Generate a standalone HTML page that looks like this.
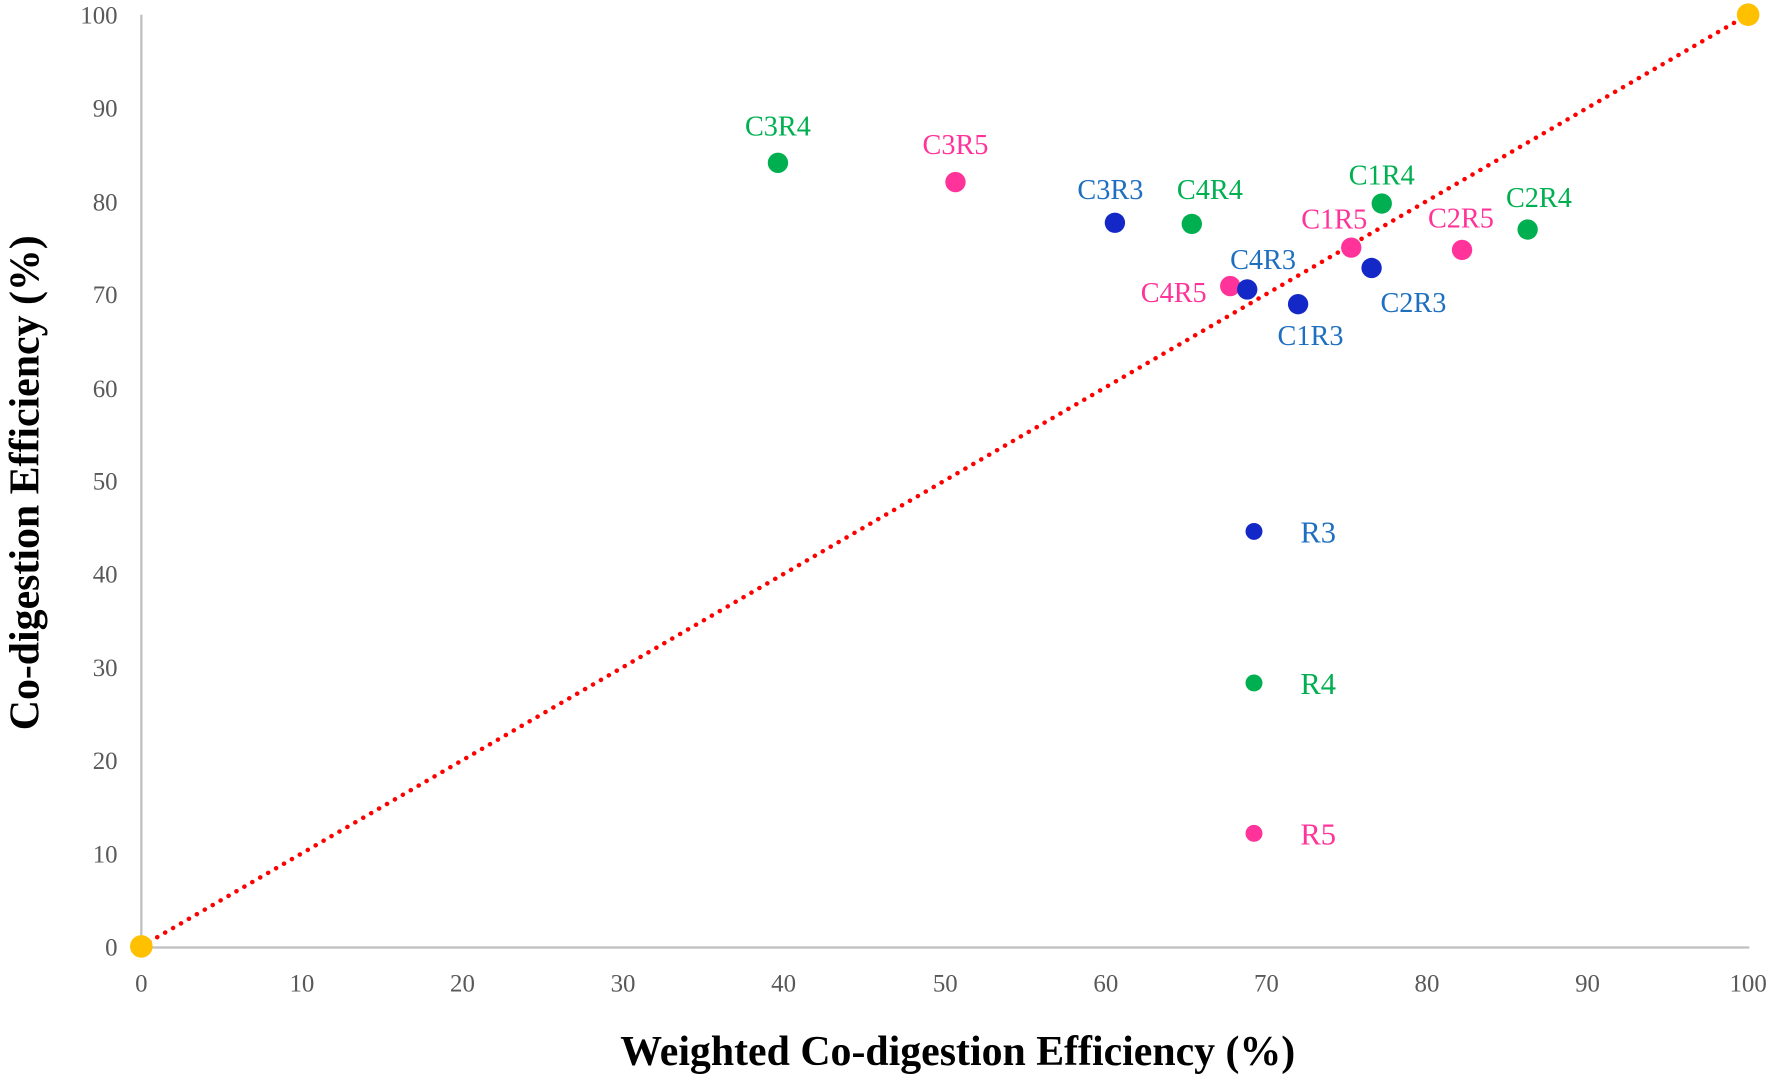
<!DOCTYPE html>
<html><head><meta charset="utf-8"><style>html,body{margin:0;padding:0;background:#fff}svg{display:block}</style></head>
<body>
<svg width="1773" height="1074" viewBox="0 0 1568 949.85" preserveAspectRatio="none" xmlns="http://www.w3.org/2000/svg" font-family="'Liberation Serif', serif">
<g stroke="#bfbfbf" stroke-width="2">
<line x1="125" y1="13" x2="125" y2="838"/>
<line x1="125" y1="838" x2="1547" y2="838"/>
</g>
<g fill="#595959" font-size="22" text-anchor="end">
<text x="104" y="845">0</text><text x="104" y="763">10</text><text x="104" y="680">20</text><text x="104" y="598">30</text><text x="104" y="515">40</text><text x="104" y="433">50</text><text x="104" y="351">60</text><text x="104" y="268">70</text><text x="104" y="186">80</text><text x="104" y="103">90</text><text x="104" y="21">100</text>
</g>
<g fill="#595959" font-size="22" text-anchor="middle">
<text x="125" y="877">0</text><text x="267" y="877">10</text><text x="409" y="877">20</text><text x="551" y="877">30</text><text x="693" y="877">40</text><text x="836" y="877">50</text><text x="978" y="877">60</text><text x="1120" y="877">70</text><text x="1262" y="877">80</text><text x="1404" y="877">90</text><text x="1546" y="877">100</text>
</g>
<line x1="125" y1="837" x2="1546" y2="13" stroke="#ff0000" stroke-width="4" stroke-dasharray="0.1 8" stroke-linecap="round"/>
<circle cx="125" cy="837" r="10" fill="#ffc000"/>
<circle cx="1546" cy="13" r="10" fill="#ffc000"/>
<g fill="#00b050"><circle cx="688" cy="144" r="9"/><circle cx="1054" cy="198" r="9"/><circle cx="1222" cy="180" r="9"/><circle cx="1351" cy="203" r="9"/><circle cx="1109" cy="604" r="7.5"/></g>
<g fill="#ff3399"><circle cx="845" cy="161" r="9"/><circle cx="1195" cy="219" r="9"/><circle cx="1293" cy="221" r="9"/><circle cx="1088" cy="253" r="9"/><circle cx="1109" cy="737" r="7.5"/></g>
<g fill="#1428c8"><circle cx="986" cy="197" r="9"/><circle cx="1103" cy="256" r="9"/><circle cx="1148" cy="269" r="9"/><circle cx="1213" cy="237" r="9"/><circle cx="1109" cy="470" r="7.5"/></g>
<g font-size="25" text-anchor="middle">
<g fill="#00b050"><text x="688" y="120">C3R4</text><text x="1070" y="176">C4R4</text><text x="1222" y="163">C1R4</text><text x="1361" y="183">C2R4</text></g>
<g fill="#ff3399"><text x="845" y="136">C3R5</text><text x="1180" y="202">C1R5</text><text x="1292" y="201">C2R5</text><text x="1038" y="267">C4R5</text></g>
<g fill="#1f6fc0"><text x="982" y="176">C3R3</text><text x="1117" y="238">C4R3</text><text x="1159" y="305">C1R3</text><text x="1250" y="276">C2R3</text></g>
</g>
<g font-size="27">
<text x="1150" y="480" fill="#1f6fc0">R3</text>
<text x="1150" y="614" fill="#00b050">R4</text>
<text x="1150" y="747" fill="#ff3399">R5</text>
</g>
<text x="847" y="942" font-size="37" font-weight="bold" text-anchor="middle" fill="#000">Weighted Co-digestion Efficiency (%)</text>
<text transform="translate(34,427) rotate(-90)" font-size="37" font-weight="bold" text-anchor="middle" fill="#000">Co-digestion Efficiency (%)</text>
</svg>
</body></html>
